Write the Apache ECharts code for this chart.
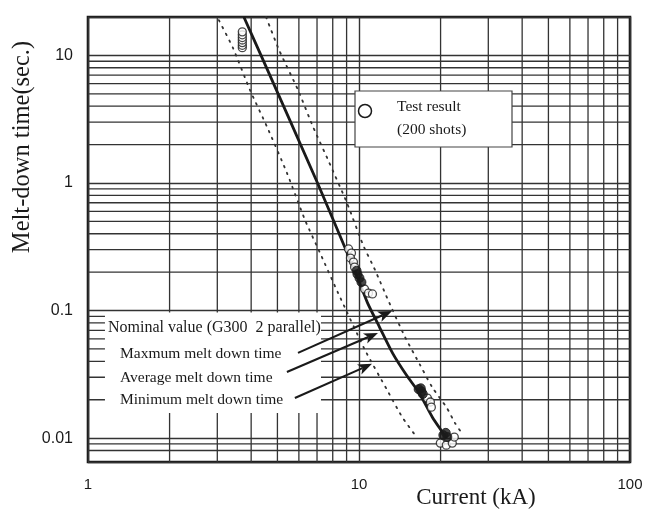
<!DOCTYPE html>
<html><head><meta charset="utf-8">
<script src="https://cdn.jsdelivr.net/npm/echarts@6/dist/echarts.min.js"></script>
<style>html,body{margin:0;padding:0;background:#fff}#c{width:656px;height:510px}</style>
</head><body><div id="c"></div>
<script>
// ---- axis ranges & tick values ----
const X_MIN = 1, X_MAX = 100;
const Y_MIN = 0.0065, Y_MAX = 20;
const xTickLabels = [1, 10, 100];
const yTickLabels = [0.01, 0.1, 1, 10];
const xMinor = [2, 3, 4, 5, 6, 7, 8, 9, 20, 30, 40, 50, 60, 70, 80, 90];
const yMinor = [0.008, 0.009, 0.02, 0.03, 0.04, 0.05, 0.06, 0.07, 0.08, 0.09,
                0.2, 0.3, 0.4, 0.5, 0.6, 0.7, 0.8, 0.9, 2, 3, 4, 5, 6, 7, 8, 9];

// ---- curves (current kA, time s) ----
const averageLine = [[3.76, 20], [4.35, 10], [7.03, 1.0], [9.79, 0.19],
  [10.75, 0.115], [11.9, 0.0743], [13.3, 0.0464], [14.96, 0.0312], [16.7, 0.0225],
  [18.65, 0.0146], [20.65, 0.0106], [21.0, 0.0100]];
const maxLine = [[4.54, 20], [5.07, 11.03], [5.955, 5.36], [6.77, 2.75], [7.69, 1.514], [9.03, 0.697],
  [10.35, 0.327], [11.46, 0.208], [12.8, 0.121], [14.78, 0.0621], [16.8, 0.0375], [18.6, 0.0252],
  [21.1, 0.01725], [22.6, 0.01316], [24.2, 0.0106]];
const minLine = [[3.04, 18.9], [3.43, 11.4], [3.96, 5.36], [4.58, 2.75], [5.42, 1.2], [6.32, 0.513],
  [7.18, 0.283], [8.37, 0.1375], [10.52, 0.0491], [12.69, 0.0239], [14.41, 0.0147], [16.09, 0.0106]];

// ---- test results ----
const testOpen = [[3.71, 11.5], [3.71, 12.0], [3.71, 12.6], [3.71, 13.2], [3.71, 13.8], [3.71, 14.5], [3.71, 15.3],
  [9.15, 0.304], [9.38, 0.282], [9.30, 0.258], [9.54, 0.240], [9.63, 0.219],
  [10.48, 0.1475], [10.84, 0.137], [11.21, 0.135],
  [17.88, 0.0206], [18.34, 0.0192], [18.49, 0.0175],
  [19.96, 0.00914], [21.0, 0.00881], [22.09, 0.00914], [22.47, 0.0102]];
const testFilled = [[9.8, 0.205], [9.87, 0.193], [10.04, 0.180], [10.21, 0.167],
  [16.6, 0.0242], [17.0, 0.0232], [17.2, 0.0222], [16.9, 0.0246], [20.47, 0.01056], [21.18, 0.0102], [20.9, 0.0110]];

// ---- annotation arrows (x1, y1, x2, y2) and label box ----
const arrows = [
  [5.955, 0.0466, 13.24, 0.0993],
  [5.42, 0.033, 11.75, 0.0668],
  [5.80, 0.02066, 11.17, 0.0382]
];
const labelBox = [[1.155, 0.0966, 7.24, 0.01576]];

const INK = '#1a1a1a';
const GRID = '#333';
const SERIF = '"Liberation Serif", "Times New Roman", serif';
const SANS = '"Liberation Sans", Arial, sans-serif';

function fmt(list) {
  return function (v) {
    for (const t of list) if (Math.abs(v - t) / t < 1e-6) return String(t);
    return '';
  };
}

const chart = echarts.init(document.getElementById('c'), null, {renderer: 'canvas'});
chart.setOption({
  animation: false,
  backgroundColor: '#fff',
  grid: {left: 88, right: 26, top: 17, bottom: 48, show: true, borderColor: INK, borderWidth: 2.6},
  xAxis: {
    type: 'log', logBase: 10, min: X_MIN, max: X_MAX,
    axisLine: {show: false}, axisTick: {show: false},
    splitLine: {show: true, lineStyle: {color: GRID, width: 1.4}},
    axisLabel: {margin: 15, formatter: fmt(xTickLabels), color: INK, fontSize: 15, fontFamily: SANS,
      showMinLabel: true, showMaxLabel: true}
  },
  yAxis: {
    type: 'log', logBase: 10, min: Y_MIN, max: Y_MAX,
    axisLine: {show: false}, axisTick: {show: false},
    splitLine: {show: true, lineStyle: {color: GRID, width: 1.4}},
    axisLabel: {margin: 15, formatter: fmt(yTickLabels), color: INK, fontSize: 16, fontFamily: SANS,
      showMinLabel: false, showMaxLabel: false}
  },
  series: [
    {
      type: 'custom', z: 1, silent: true, clip: true,
      data: xMinor.map(v => [v, Y_MIN]),
      encode: {x: 0, y: 1},
      renderItem: function (params, api) {
        const v = api.value(0);
        const a = api.coord([v, Y_MIN]), b = api.coord([v, Y_MAX]);
        return {type: 'line', shape: {x1: a[0], y1: a[1], x2: b[0], y2: b[1]},
          style: {stroke: GRID, lineWidth: 1.3}};
      }
    },
    {
      type: 'custom', z: 1, silent: true, clip: true,
      data: yMinor.map(v => [X_MIN, v]),
      encode: {x: 0, y: 1},
      renderItem: function (params, api) {
        const v = api.value(1);
        const a = api.coord([X_MIN, v]), b = api.coord([X_MAX, v]);
        return {type: 'line', shape: {x1: a[0], y1: a[1], x2: b[0], y2: b[1]},
          style: {stroke: GRID, lineWidth: 1.3}};
      }
    },
    {
      type: 'custom', z: 2, silent: true, clip: true,
      data: labelBox,
      encode: {x: [0, 2], y: [1, 3]},
      renderItem: function (params, api) {
        const a = api.coord([api.value(0), api.value(1)]);
        const b = api.coord([api.value(2), api.value(3)]);
        return {type: 'rect', shape: {x: a[0], y: a[1], width: b[0] - a[0], height: b[1] - a[1]},
          style: {fill: '#fff'}};
      }
    },
    {
      name: 'Maximum', type: 'line', z: 3, data: maxLine, showSymbol: false, symbol: 'none', smooth: 0.2,
      lineStyle: {color: GRID, width: 1.8, type: [1.6, 6], cap: 'round'}
    },
    {
      name: 'Minimum', type: 'line', z: 3, data: minLine, showSymbol: false, symbol: 'none', smooth: 0.2,
      lineStyle: {color: GRID, width: 1.8, type: [1.6, 6], cap: 'round'}
    },
    {
      name: 'Average', type: 'line', z: 3, data: averageLine, showSymbol: false, symbol: 'none', smooth: 0.2,
      lineStyle: {color: INK, width: 2.8}
    },
    {
      name: 'Test result', type: 'scatter', z: 4, data: testOpen, symbol: 'circle', symbolSize: 8,
      itemStyle: {color: '#fff', borderColor: INK, borderWidth: 1.3}
    },
    {
      name: 'Test result (dense)', type: 'scatter', z: 4, data: testFilled, symbol: 'circle', symbolSize: 9,
      itemStyle: {color: INK, borderColor: INK, borderWidth: 1}
    },
    {
      type: 'custom', z: 5, silent: true, clip: false,
      data: arrows,
      encode: {x: [0, 2], y: [1, 3]},
      renderItem: function (params, api) {
        const a = api.coord([api.value(0), api.value(1)]);
        const b = api.coord([api.value(2), api.value(3)]);
        const dx = b[0] - a[0], dy = b[1] - a[1];
        const L = Math.sqrt(dx * dx + dy * dy);
        const ux = dx / L, uy = dy / L, nx = -uy, ny = ux;
        const hl = 14, hw = 5.5, notch = 3.5;
        const base = [b[0] - ux * hl, b[1] - uy * hl];
        const inner = [b[0] - ux * (hl - notch), b[1] - uy * (hl - notch)];
        return {
          type: 'group',
          children: [
            {type: 'line', shape: {x1: a[0], y1: a[1], x2: inner[0], y2: inner[1]},
              style: {stroke: INK, lineWidth: 2.1}},
            {type: 'polygon', shape: {points: [
              [b[0], b[1]],
              [base[0] + nx * hw, base[1] + ny * hw],
              inner,
              [base[0] - nx * hw, base[1] - ny * hw]
            ]}, style: {fill: INK}}
          ]
        };
      }
    }
  ],
  graphic: [
    {type: 'rect', z: 100, shape: {x: 355, y: 91, width: 157, height: 56},
      style: {fill: '#fff', stroke: '#444', lineWidth: 1.2}},
    {type: 'circle', z: 101, shape: {cx: 365, cy: 111, r: 6.5},
      style: {fill: '#fff', stroke: INK, lineWidth: 1.5}},
    {type: 'text', z: 101, x: 397, y: 106.5,
      style: {text: 'Test result', fontSize: 15.5, fontFamily: SERIF, fill: INK, align: 'left', verticalAlign: 'middle'}},
    {type: 'text', z: 101, x: 397, y: 130,
      style: {text: '(200 shots)', fontSize: 15.5, fontFamily: SERIF, fill: INK, align: 'left', verticalAlign: 'middle'}},
    {type: 'text', z: 101, x: 108, y: 327.5,
      style: {text: 'Nominal value (G300  2 parallel)', fontSize: 16, fontFamily: SERIF, fill: INK, align: 'left', verticalAlign: 'middle'}},
    {type: 'text', z: 101, x: 120, y: 354,
      style: {text: 'Maxmum melt down time', fontSize: 15.5, fontFamily: SERIF, fill: INK, align: 'left', verticalAlign: 'middle'}},
    {type: 'text', z: 101, x: 120, y: 377.5,
      style: {text: 'Average melt down time', fontSize: 15.5, fontFamily: SERIF, fill: INK, align: 'left', verticalAlign: 'middle'}},
    {type: 'text', z: 101, x: 120, y: 399.7,
      style: {text: 'Minimum melt down time', fontSize: 15.5, fontFamily: SERIF, fill: INK, align: 'left', verticalAlign: 'middle'}},
    {type: 'text', z: 101, x: 476, y: 497.5,
      style: {text: 'Current (kA)', fontSize: 23, fontFamily: SERIF, fill: INK, align: 'center', verticalAlign: 'middle'}},
    {type: 'text', z: 101, x: 23, y: 147, rotation: Math.PI / 2,
      style: {text: 'Melt-down time(sec.)', fontSize: 24.5, fontFamily: SERIF, fill: INK, align: 'center', verticalAlign: 'middle'}}
  ]
});
</script>
</body></html>
